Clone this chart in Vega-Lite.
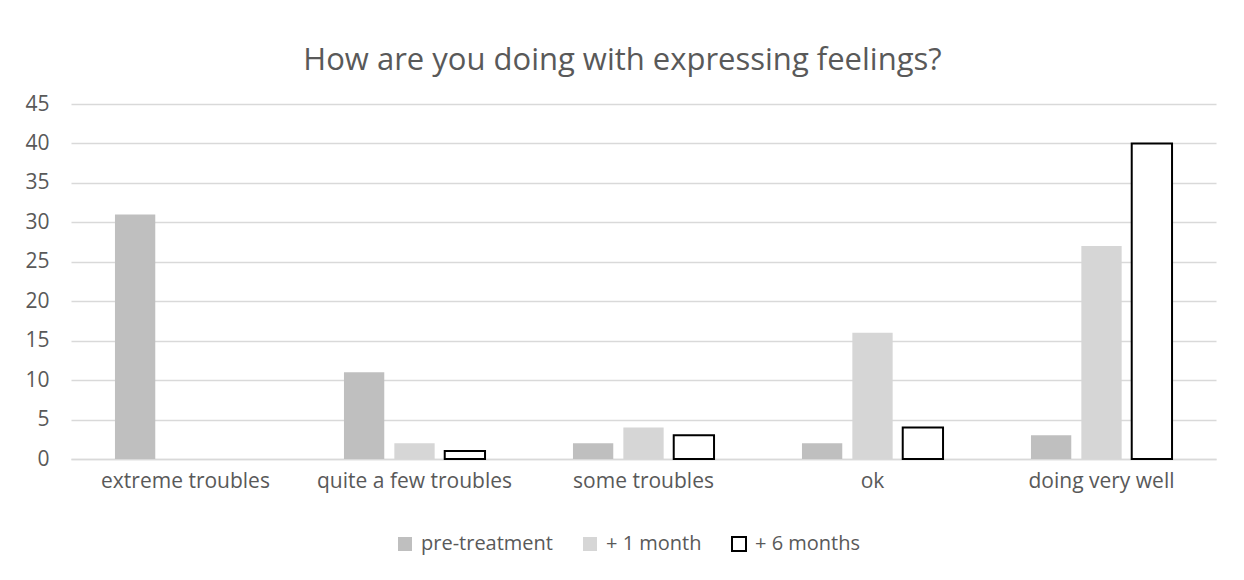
{
  "$schema": "https://vega.github.io/schema/vega-lite/v6.json",
  "width": 1145,
  "height": 355,
  "autosize": {"type": "none"},
  "padding": {"left": 71, "top": 104, "right": 28, "bottom": 121},
  "background": "white",
  "title": {
    "text": "How are you doing with expressing feelings?",
    "font": "Open Sans",
    "fontSize": 31,
    "fontWeight": "normal",
    "color": "#595959",
    "anchor": "middle",
    "dx": -21,
    "offset": 16
  },
  "data": {
    "values": [
      {"category": "extreme troubles", "series": "pre-treatment", "value": 31},
      {"category": "quite a few troubles", "series": "pre-treatment", "value": 11},
      {"category": "quite a few troubles", "series": "+ 1 month", "value": 2},
      {"category": "quite a few troubles", "series": "+ 6 months", "value": 1},
      {"category": "some troubles", "series": "pre-treatment", "value": 2},
      {"category": "some troubles", "series": "+ 1 month", "value": 4},
      {"category": "some troubles", "series": "+ 6 months", "value": 3},
      {"category": "ok", "series": "pre-treatment", "value": 2},
      {"category": "ok", "series": "+ 1 month", "value": 16},
      {"category": "ok", "series": "+ 6 months", "value": 4},
      {"category": "doing very well", "series": "pre-treatment", "value": 3},
      {"category": "doing very well", "series": "+ 1 month", "value": 27},
      {"category": "doing very well", "series": "+ 6 months", "value": 40}
    ]
  },
  "mark": {"type": "bar", "strokeWidth": 2},
  "encoding": {
    "x": {
      "field": "category",
      "type": "nominal",
      "sort": ["extreme troubles", "quite a few troubles", "some troubles", "ok", "doing very well"],
      "scale": {"paddingInner": 0.384, "paddingOuter": 0.192},
      "axis": {
        "title": null,
        "labelAngle": 0,
        "labelFont": "Open Sans",
        "labelFontSize": 21,
        "labelLimit": 400,
        "labelColor": "#595959",
        "labelPadding": 11,
        "ticks": false,
        "domainColor": "#d9d9d9",
        "domainWidth": 1.5
      }
    },
    "xOffset": {
      "field": "series",
      "type": "nominal",
      "sort": ["pre-treatment", "+ 1 month", "+ 6 months"],
      "scale": {"domain": ["pre-treatment", "+ 1 month", "+ 6 months"], "paddingInner": 0.2, "paddingOuter": 0}
    },
    "y": {
      "field": "value",
      "type": "quantitative",
      "scale": {"domain": [0, 45], "nice": false},
      "axis": {
        "title": null,
        "values": [0, 5, 10, 15, 20, 25, 30, 35, 40, 45],
        "labelFont": "Open Sans",
        "labelFontSize": 21,
        "labelColor": "#595959",
        "labelPadding": 22,
        "ticks": false,
        "domain": false,
        "gridColor": "#d9d9d9",
        "gridWidth": 1.5
      }
    },
    "fill": {
      "field": "series",
      "type": "nominal",
      "sort": ["pre-treatment", "+ 1 month", "+ 6 months"],
      "scale": {"domain": ["pre-treatment", "+ 1 month", "+ 6 months"], "range": ["#bfbfbf", "#d6d6d6", "#ffffff"]},
      "legend": {
        "title": null,
        "orient": "none",
        "direction": "horizontal",
        "legendX": 324,
        "legendY": 430,
        "symbolType": "square",
        "symbolSize": 196,
        "symbolStrokeWidth": 2,
        "labelFont": "Open Sans",
        "labelFontSize": 20,
        "labelColor": "#595959",
        "labelOffset": 6,
        "columnPadding": 26
      }
    },
    "stroke": {
      "field": "series",
      "type": "nominal",
      "sort": ["pre-treatment", "+ 1 month", "+ 6 months"],
      "scale": {"domain": ["pre-treatment", "+ 1 month", "+ 6 months"], "range": ["transparent", "transparent", "#000000"]},
      "legend": null
    }
  },
  "config": {
    "view": {"stroke": null},
    "axis": {"gridOpacity": 1}
  }
}
